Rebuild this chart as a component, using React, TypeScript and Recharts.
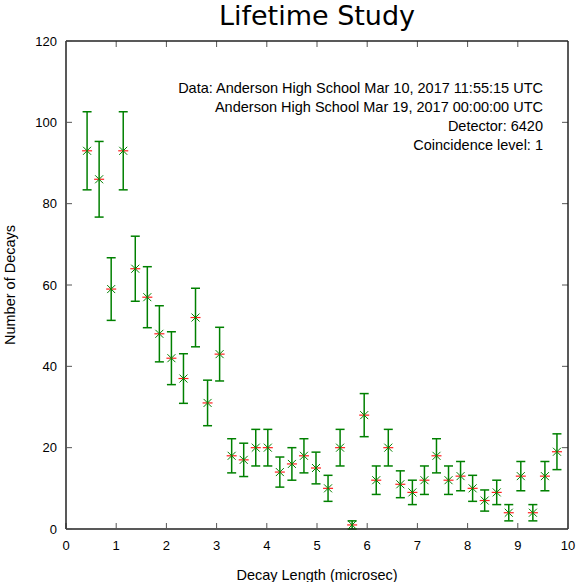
import { ScatterChart, Scatter, XAxis, YAxis, ErrorBar, ReferenceLine } from 'recharts'

// bin centres (microsec), counts per bin, and sqrt(N) errors
const binCenters = [
  0.42, 0.66, 0.9, 1.14, 1.38, 1.62, 1.86, 2.1, 2.34, 2.58,
  2.82, 3.06, 3.3, 3.54, 3.78, 4.02, 4.26, 4.5, 4.74, 4.98,
  5.22, 5.46, 5.7, 5.94, 6.18, 6.42, 6.66, 6.9, 7.14, 7.38,
  7.62, 7.86, 8.1, 8.34, 8.58, 8.82, 9.06, 9.3, 9.54, 9.78,
]
const decayCounts = [
  93, 86, 59, 93, 64, 57, 48, 42, 37, 52,
  31, 43, 18, 17, 20, 20, 14, 16, 18, 15,
  10, 20, 1, 28, 12, 20, 11, 9, 12, 18,
  12, 13, 10, 7, 9, 4, 13, 4, 13, 19,
]
const countErrors = [
  9.6, 9.3, 7.7, 9.6, 8.0, 7.5, 6.9, 6.5, 6.1, 7.2,
  5.6, 6.6, 4.2, 4.1, 4.5, 4.5, 3.7, 4.0, 4.2, 3.9,
  3.2, 4.5, 1.0, 5.3, 3.5, 4.5, 3.3, 3.0, 3.5, 4.2,
  3.5, 3.6, 3.2, 2.6, 3.0, 2.0, 3.6, 2.0, 3.6, 4.4,
]
const xTicks = [0, 1, 2, 3, 4, 5, 6, 7, 8, 9, 10]
const yTicks = [0, 20, 40, 60, 80, 100, 120]
const infoLines = [
  'Data: Anderson High School Mar 10, 2017 11:55:15 UTC',
  'Anderson High School Mar 19, 2017 00:00:00 UTC',
  'Detector: 6420',
  'Coincidence level: 1',
]

const data = binCenters.map((x, i) => ({ x, y: decayCounts[i], err: countErrors[i] }))

const GREEN = '#008000'
const FONT = '"Liberation Sans", Arial, sans-serif'
const FRAME = '#222'
const TICK = '#555'

const Marker = (props: any) => {
  const { cx, cy } = props
  if (cx == null || cy == null) return null
  return (
    <g>
      <line x1={cx - 5} x2={cx + 5} y1={cy} y2={cy} stroke="#ff2020" strokeWidth={1.2} />
      <line x1={cx - 4} y1={cy - 4} x2={cx + 4} y2={cy + 4} stroke={GREEN} strokeWidth={1} />
      <line x1={cx - 4} y1={cy + 4} x2={cx + 4} y2={cy - 4} stroke={GREEN} strokeWidth={1} />
    </g>
  )
}

// mirrored inward ticks along the top edge (vertical reference lines)
const TopTick = (props: any) => {
  const { x1, y1, y2 } = props
  const top = Math.min(y1, y2)
  return <line x1={x1} x2={x1} y1={top} y2={top + 6} stroke={TICK} strokeWidth={1} />
}

// mirrored inward ticks along the right edge (horizontal reference lines)
const RightTick = (props: any) => {
  const { x1, x2, y1 } = props
  const right = Math.max(x1, x2)
  return <line x1={right - 6} x2={right} y1={y1} y2={y1} stroke={TICK} strokeWidth={1} />
}

export default function App() {
  const tickStyle = { fill: '#000', fontSize: 13, fontFamily: FONT }
  return (
    <div style={{ position: 'absolute', left: 0, top: 0, width: 577, height: 582, background: '#fff' }}>
      <ScatterChart width={577} height={582} margin={{ top: 41, right: 9, bottom: 23, left: 6 }}>
        <XAxis
          type="number"
          dataKey="x"
          domain={[0, 10]}
          ticks={xTicks}
          allowDataOverflow
          tickSize={-6}
          tickMargin={18}
          height={30}
          stroke={FRAME}
          strokeWidth={1.5}
          tickLine={{ stroke: TICK, strokeWidth: 1 }}
          tick={tickStyle}
        />
        <YAxis
          type="number"
          dataKey="y"
          domain={[0, 120]}
          ticks={yTicks}
          allowDataOverflow
          tickSize={-6}
          tickMargin={15}
          width={60}
          stroke={FRAME}
          strokeWidth={1.5}
          tickLine={{ stroke: TICK, strokeWidth: 1 }}
          tick={tickStyle}
        />
        {xTicks.slice(1, -1).map((t) => (
          <ReferenceLine key={`tx-${t}`} x={t} shape={TopTick} />
        ))}
        {yTicks.slice(1, -1).map((t) => (
          <ReferenceLine key={`ty-${t}`} y={t} shape={RightTick} />
        ))}
        <ReferenceLine y={120} stroke={FRAME} strokeWidth={1.5} />
        <ReferenceLine x={10} stroke={FRAME} strokeWidth={1.5} />
        <Scatter data={data} dataKey="y" shape={Marker} isAnimationActive={false}>
          <ErrorBar dataKey="err" direction="y" width={4.5} stroke={GREEN} strokeWidth={1.5} />
        </Scatter>
      </ScatterChart>

      <svg
        width={577}
        height={582}
        style={{ position: 'absolute', left: 0, top: 0, pointerEvents: 'none' }}
      >
        <text x={317} y={25} textAnchor="middle" fontSize={27} fontFamily='"DejaVu Sans", sans-serif' fill="#000">
          Lifetime Study
        </text>
        {infoLines.map((line, i) => (
          <text key={line} x={543} y={93 + i * 19} textAnchor="end" fontSize={14.5} fontFamily={FONT} fill="#000">
            {line}
          </text>
        ))}
        <text x={317} y={580} textAnchor="middle" fontSize={14.5} fontFamily={FONT} fill="#000">
          Decay Length (microsec)
        </text>
        <text
          x={0}
          y={0}
          transform="translate(15 285) rotate(-90)"
          textAnchor="middle"
          fontSize={14.5}
          fontFamily={FONT}
          fill="#000"
        >
          Number of Decays
        </text>
      </svg>
    </div>
  )
}
